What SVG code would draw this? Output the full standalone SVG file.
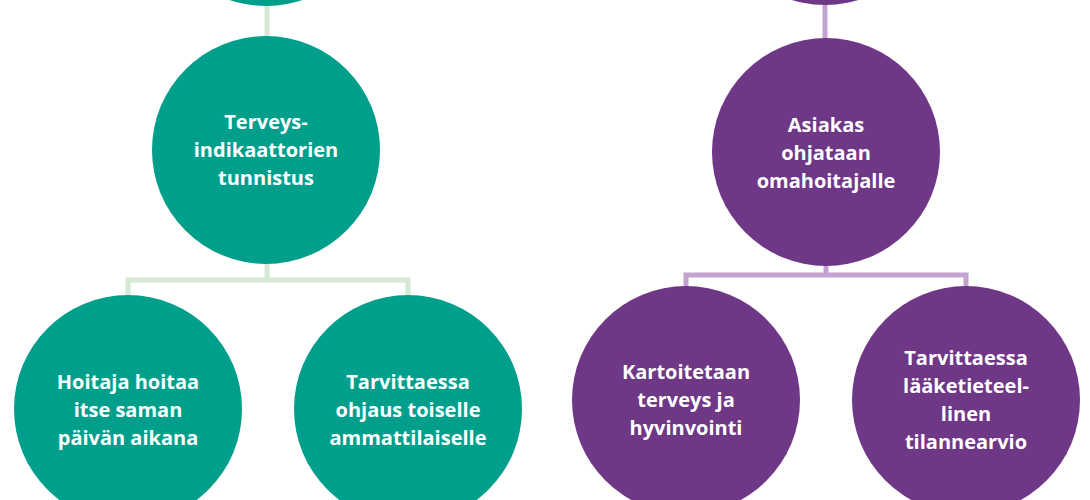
<svg xmlns="http://www.w3.org/2000/svg" width="1090" height="500" viewBox="0 0 1090 500">
<style>
.t{fill:#009f8b}
.p{fill:#6f3887}
.cg{stroke:#d5e8d3;stroke-width:5;fill:none}
.cp{stroke:#c2a3d2;stroke-width:5;fill:none}
text{font-family:"Open Sans","Noto Sans","Liberation Sans",sans-serif;font-weight:700;font-size:20px;fill:#ffffff;text-anchor:middle}
</style>
<rect width="1090" height="500" fill="#ffffff"/>
<g id="connectors">
<path class="cg" d="M267,0 V40"/>
<path class="cg" d="M267,260 V280 M128,280 H408 M128,277.5 V300 M408,277.5 V300"/>
<path class="cp" d="M825,0 V40"/>
<path class="cp" d="M826,262 V275 M686,275 H966 M686,272.5 V292 M966,272.5 V292"/>
</g>
<g id="node-green-top"><circle class="t" cx="266" cy="-108" r="114"/></g>
<g id="node-green-mid"><circle class="t" cx="266" cy="150" r="114"/>
<text x="266" y="129">Terveys-</text><text x="266" y="157">indikaattorien</text><text x="266" y="185">tunnistus</text></g>
<g id="node-green-left"><circle class="t" cx="128" cy="409" r="114"/>
<text x="128" y="389">Hoitaja hoitaa</text><text x="128" y="417">itse saman</text><text x="128" y="445">päivän aikana</text></g>
<g id="node-green-right"><circle class="t" cx="408" cy="409" r="114"/>
<text x="408" y="389">Tarvittaessa</text><text x="408" y="417">ohjaus toiselle</text><text x="408" y="445">ammattilaiselle</text></g>
<g id="node-purple-top"><circle class="p" cx="825" cy="-109" r="114"/></g>
<g id="node-purple-mid"><circle class="p" cx="826" cy="152" r="114"/>
<text x="826" y="132">Asiakas</text><text x="826" y="160">ohjataan</text><text x="826" y="188">omahoitajalle</text></g>
<g id="node-purple-left"><circle class="p" cx="686" cy="400" r="114"/>
<text x="686" y="379">Kartoitetaan</text><text x="686" y="407">terveys ja</text><text x="686" y="435">hyvinvointi</text></g>
<g id="node-purple-right"><circle class="p" cx="966" cy="400" r="114"/>
<text x="966" y="365">Tarvittaessa</text><text x="966" y="393">lääketieteel-</text><text x="966" y="421">linen</text><text x="966" y="449">tilannearvio</text></g>
</svg>
